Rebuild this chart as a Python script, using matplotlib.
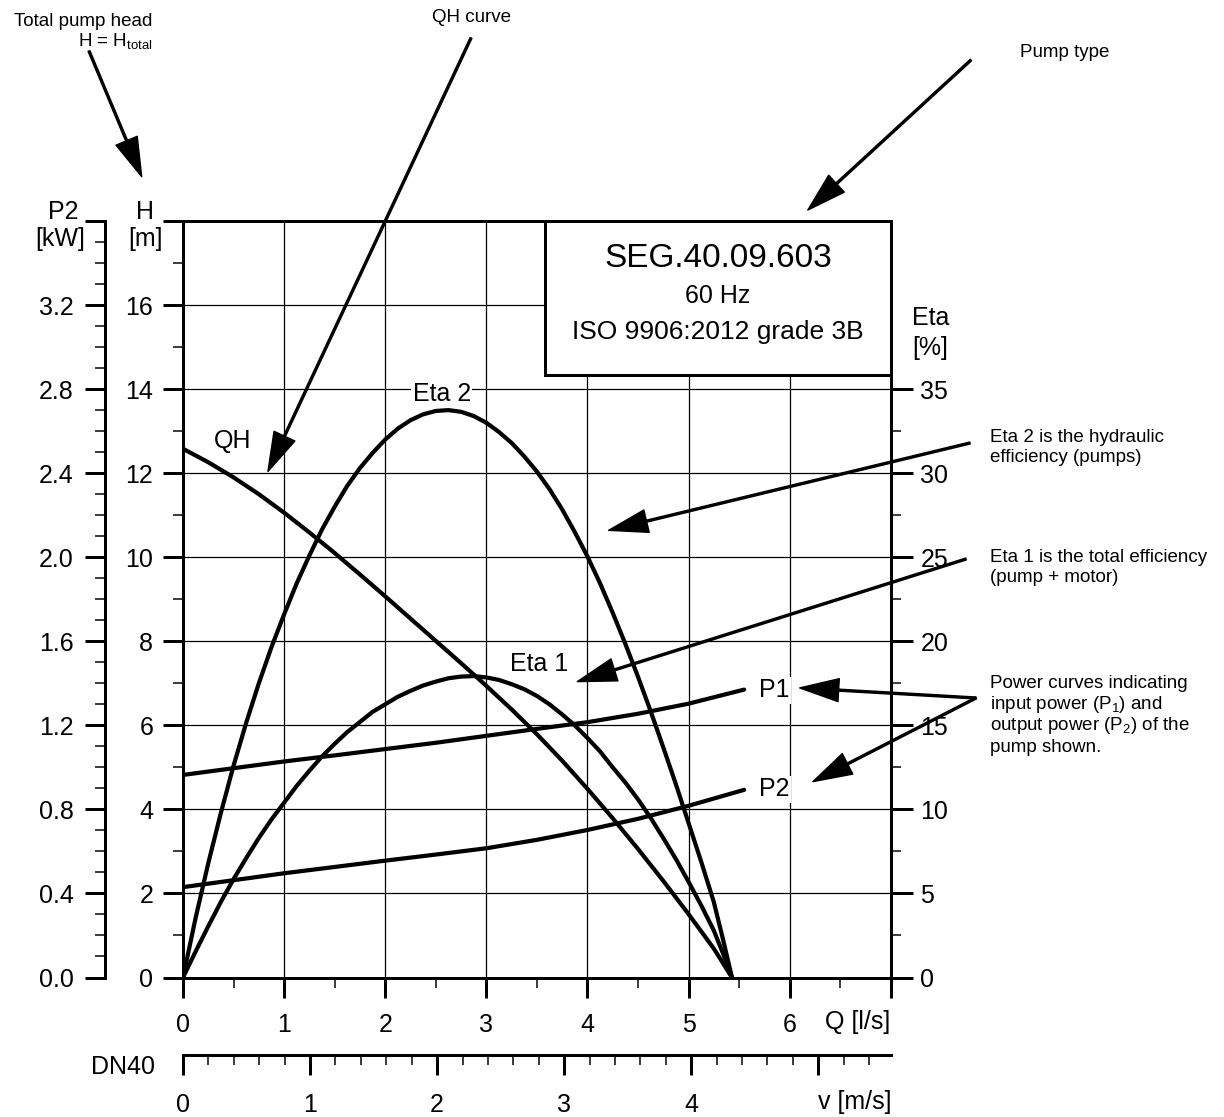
import matplotlib
matplotlib.use('Agg')
import matplotlib.pyplot as plt
from matplotlib.patches import Rectangle
import numpy as np

plt.rcParams['font.family'] = ['Liberation Sans', 'DejaVu Sans']
plt.rcParams['mathtext.fontset'] = 'custom'
plt.rcParams['mathtext.rm'] = 'Liberation Sans'
plt.rcParams['mathtext.it'] = 'Liberation Sans:italic'
plt.rcParams['mathtext.default'] = 'regular'

W, H = 1224, 1117

# QH curve: flow [l/s] -> head [m]
q_qh = [0.0, 0.25, 0.5, 0.75, 1.0, 1.25, 1.5, 1.75, 2.0, 2.25, 2.5, 2.75, 3.0,
        3.25, 3.5, 3.75, 4.0, 4.25, 4.5, 4.75, 5.0, 5.25, 5.43]
h_qh = [12.58, 12.26, 11.9, 11.5, 11.06, 10.59, 10.1, 9.59, 9.07, 8.54, 8.01, 7.48, 6.94,
        6.38, 5.79, 5.16, 4.49, 3.79, 3.06, 2.3, 1.51, 0.69, 0.0]

# efficiencies [%]
q_eta = [0.0, 0.125, 0.25, 0.375, 0.5, 0.625, 0.75, 0.875, 1.0, 1.125, 1.25, 1.375,
         1.5, 1.625, 1.75, 1.875, 2.0, 2.125, 2.25, 2.375, 2.5, 2.625, 2.75, 2.875,
         3.0, 3.125, 3.25, 3.375, 3.5, 3.625, 3.75, 3.875, 4.0, 4.125, 4.25, 4.375,
         4.5, 4.625, 4.75, 4.875, 5.0, 5.125, 5.25, 5.34, 5.43]
eta2 = [0.0, 3.55, 6.8, 9.8, 12.6, 15.15, 17.5, 19.65, 21.6, 23.45, 25.1, 26.65,
        28.0, 29.25, 30.3, 31.2, 32.0, 32.65, 33.15, 33.5, 33.7, 33.75, 33.65, 33.4,
        33.0, 32.45, 31.8, 31.0, 30.1, 29.05, 27.85, 26.5, 25.05, 23.45, 21.7, 19.85,
        17.9, 15.85, 13.7, 11.5, 9.2, 6.9, 4.5, 2.3, 0.0]
eta1 = [0.0, 1.55, 3.05, 4.5, 5.85, 7.1, 8.3, 9.4, 10.4, 11.4, 12.3, 13.15,
        13.9, 14.6, 15.2, 15.8, 16.25, 16.7, 17.05, 17.37, 17.6, 17.8, 17.9, 17.93,
        17.85, 17.7, 17.45, 17.15, 16.75, 16.25, 15.65, 15.0, 14.25, 13.45, 12.5, 11.6,
        10.6, 9.5, 8.3, 7.05, 5.7, 4.3, 2.8, 1.45, 0.0]

# power [kW]
q_pow = [0.0, 0.5, 1.0, 1.5, 2.0, 2.5, 3.0, 3.5, 4.0, 4.5, 5.0, 5.55]
p1 = [0.964, 0.996, 1.028, 1.057, 1.087, 1.117, 1.15, 1.183, 1.215, 1.255, 1.303, 1.37]
p2 = [0.43, 0.463, 0.496, 0.526, 0.556, 0.585, 0.615, 0.655, 0.702, 0.755, 0.817, 0.893]

pump_name = 'SEG.40.09.603'
pump_freq = '60 Hz'
pump_grade = 'ISO 9906:2012 grade 3B'

# DN40 pipe: l/s per m/s
dn40 = np.pi * 0.04 ** 2 / 4 * 1000


def px(x, y):
    # pixel position (from top-left) -> figure fraction
    return (x / W, 1 - y / H)


PT = 0.72  # points per pixel at dpi 100
LW_AX = 3 * PT
LW_CURVE = 4.2 * PT
FS = 18
FS_NOTE = 13.5

fig = plt.figure(figsize=(W / 100, H / 100), dpi=100)
L, R, B, T = 183, 890.7, 977.5, 221
rect = [L / W, 1 - B / H, (R - L) / W, (B - T) / H]

ax = fig.add_axes(rect)
ax.set_xlim(0, 7)
ax.set_ylim(0, 18)
ax.set_axisbelow(True)
ax.grid(True, which='major', color='black', lw=0.9)
for s in ax.spines.values():
    s.set_linewidth(LW_AX)

ax.set_xticks(range(8), labels=[str(i) for i in range(7)] + [''])
ax.set_xticks(np.arange(0.5, 7, 1), minor=True)
ax.set_yticks(range(0, 19, 2), labels=[str(i) for i in range(0, 17, 2)] + [''])
ax.set_yticks(range(1, 18, 2), minor=True)
ax.tick_params(which='major', direction='out', length=20 * PT, width=LW_AX, labelsize=FS)
ax.tick_params(which='minor', direction='out', length=10 * PT, width=1.5 * PT)
ax.tick_params(axis='x', which='major', pad=11)
ax.tick_params(axis='y', which='major', pad=7)

curve = dict(color='black', lw=LW_CURVE, solid_joinstyle='round', solid_capstyle='round')
ax.plot(q_qh, h_qh, zorder=3, **curve)

# efficiency axis on the right
ax_eta = ax.twinx()
ax_eta.set_ylim(0, 45)
for s in ax_eta.spines.values():
    s.set_visible(False)
ax_eta.set_yticks(range(0, 40, 5))
ax_eta.set_yticks(np.arange(2.5, 35, 5), minor=True)
ax_eta.tick_params(which='major', direction='out', length=22 * PT, width=LW_AX,
                   labelsize=FS, pad=5.5)
ax_eta.tick_params(which='minor', direction='out', length=10 * PT, width=1.5 * PT)
ax_eta.plot(q_eta, eta2, **curve)
ax_eta.plot(q_eta, eta1, **curve)

# power axis, offset to the left
ax_p = fig.add_axes(rect, facecolor='none')
ax_p.set_xlim(0, 7)
ax_p.set_ylim(0, 3.6)
ax_p.xaxis.set_visible(False)
for k in ['top', 'right', 'bottom']:
    ax_p.spines[k].set_visible(False)
ax_p.spines['left'].set_position(('outward', (L - 105) * PT))
ax_p.spines['left'].set_linewidth(LW_AX)
p_major = np.round(np.arange(0, 3.61, 0.4), 1)
ax_p.set_yticks(p_major, labels=[f'{v:.1f}' for v in p_major[:-1]] + [''])
ax_p.set_yticks(np.round(np.arange(0.1, 3.6, 0.1), 1), minor=True)
ax_p.tick_params(which='major', direction='out', length=20 * PT, width=LW_AX,
                 labelsize=FS, pad=8)
ax_p.tick_params(which='minor', direction='out', length=10 * PT, width=1.5 * PT)
ax_p.plot(q_pow, p1, **curve)
ax_p.plot(q_pow, p2, **curve)

# velocity scale for DN40
sec = ax.secondary_xaxis((B - 1055) / (B - T), functions=(lambda q: q / dn40, lambda v: v * dn40))
sec.set_xticks(range(6), labels=['0', '1', '2', '3', '4', ''])
sec.set_xticks(np.round(np.arange(0.2, 5.6, 0.2), 1), minor=True)
sec.tick_params(which='major', direction='out', length=20 * PT, width=LW_AX,
                labelsize=FS, pad=13)
sec.tick_params(which='minor', direction='out', length=10 * PT, width=1.5 * PT)
sec.spines['bottom'].set_linewidth(LW_AX)

# curve labels
lbl = dict(fontsize=FS, ha='center', va='center', zorder=6,
           bbox=dict(facecolor='white', edgecolor='none', pad=1))
ax.text(0.49, 12.76, 'QH', **lbl)
ax.text(2.56, 13.89, 'Eta 2', **lbl)
ax.text(3.52, 7.46, 'Eta 1', **lbl)
ax.text(5.846, 6.83, 'P1', **lbl)
ax.text(5.846, 4.48, 'P2', **lbl)

# type box
ax.add_patch(Rectangle((0.5115, 0.7964), 1 - 0.5115, 1 - 0.7964, transform=ax.transAxes,
                       facecolor='white', edgecolor='black', lw=LW_AX, zorder=5, clip_on=False))
cx = (545 + R) / 2
fig.text(*px(cx, 258), pump_name, fontsize=24, ha='center', va='center')
fig.text(*px(cx, 296), pump_freq, fontsize=FS, ha='center', va='center')
fig.text(*px(cx, 332), pump_grade, fontsize=19, ha='center', va='center')

# axis titles
fig.text(*px(R, 1022), 'Q [l/s]', fontsize=FS, ha='right', va='center')
fig.text(*px(891, 1102), 'v [m/s]', fontsize=FS, ha='right', va='center')
fig.text(*px(155, 1067), 'DN40', fontsize=FS, ha='right', va='center')
fig.text(*px(154, 212), 'H', fontsize=FS, ha='right', va='center')
fig.text(*px(145, 239), '[m]', fontsize=FS, ha='center', va='center')
fig.text(*px(78, 212), 'P2', fontsize=FS, ha='right', va='center')
fig.text(*px(60, 239), '[kW]', fontsize=FS, ha='center', va='center')
fig.text(*px(912, 318), 'Eta', fontsize=FS, ha='left', va='center')
fig.text(*px(912, 348), '[%]', fontsize=FS, ha='left', va='center')

# explanatory notes with arrows
arrow = dict(width=2 * PT, headwidth=23 * PT, headlength=39 * PT,
             facecolor='black', edgecolor='black', shrink=0)


def note_arrow(xy, tail, coords='data'):
    ax.annotate('', xy=xy, xycoords=coords, xytext=px(*tail), textcoords='figure fraction',
                arrowprops=arrow, annotation_clip=False, zorder=7)


note_arrow(px(141.7, 176.7), (89, 51), coords='figure fraction')
note_arrow((0.84, 12.04), (471, 38))
note_arrow((6.18, 18.26), (971, 60))
note_arrow((4.21, 10.64), (970, 443))
note_arrow((3.90, 7.04), (966, 559))
note_arrow((6.10, 6.89), (976, 698))
note_arrow((6.23, 4.66), (976, 698))

fig.text(*px(152, 26), 'Total pump head', fontsize=FS_NOTE, ha='right', va='baseline')
fig.text(*px(153, 46), r'H = H$_{total}$', fontsize=FS_NOTE, ha='right', va='baseline')
fig.text(*px(471, 22), 'QH curve', fontsize=FS_NOTE, ha='center', va='baseline')
fig.text(*px(1020, 57), 'Pump type', fontsize=FS_NOTE, ha='left', va='baseline')
notes = [
    (442, 'Eta 2 is the hydraulic'),
    (461.5, 'efficiency (pumps)'),
    (562.5, 'Eta 1 is the total efficiency'),
    (582, '(pump + motor)'),
    (687.7, 'Power curves indicating'),
    (709, r'input power (P$_1$) and'),
    (730.5, r'output power (P$_2$) of the'),
    (751.7, 'pump shown.'),
]
for y, s in notes:
    fig.text(*px(990, y), s, fontsize=FS_NOTE, ha='left', va='baseline')

fig.savefig('out.png', dpi=100)
